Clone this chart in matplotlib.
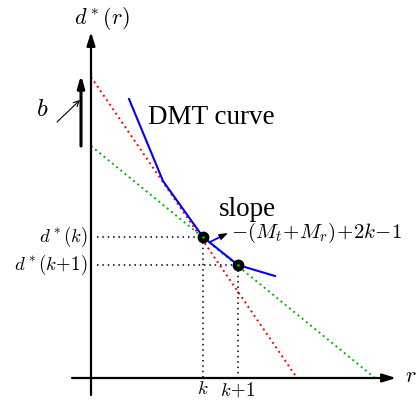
import matplotlib
matplotlib.use('agg')
import matplotlib.pyplot as plt

plt.rcParams['mathtext.fontset'] = 'cm'
plt.rcParams['font.family'] = ['Liberation Serif', 'DejaVu Serif']

# diagram coordinates (origin at axis crossing, y up)
dmt_r = [38, 72, 112, 147, 184]
dmt_d = [279, 197, 141, 113, 102]

red_r = [0, 206]
red_d = [301, 0]
green_r = [0, 284]
green_d = [232, 0]

pts_r = [112, 147]
pts_d = [141, 113]
pt_labels = [r'$d^*(k)$', r'$d^*(k\!+\!1)$']
r_labels = [r'$k$', r'$k\!+\!1$']

fig = plt.figure(figsize=(4.17, 4.03), dpi=100)
ax = fig.add_axes([0, 0, 1, 1])
ax.set_xlim(-91, 326)
ax.set_ylim(-25, 378)
ax.axis('off')

# axes arrows
ax.annotate('', xy=(305, 0), xytext=(-19, 0),
            arrowprops=dict(arrowstyle='-|>,head_length=0.8,head_width=0.25', color='black', lw=1.6,
                            shrinkA=0, shrinkB=0))
ax.annotate('', xy=(0, 346), xytext=(0, -17),
            arrowprops=dict(arrowstyle='-|>,head_length=0.8,head_width=0.25', color='black', lw=1.6,
                            shrinkA=0, shrinkB=0))
ax.text(314, 0, r'$r$', fontsize=16, va='center', ha='left')
ax.text(11, 360, r'$d^*(r)$', fontsize=16, va='center', ha='center')

# tangent lines
ax.plot(red_r, red_d, color='#ff0000', lw=1.4, linestyle=(0, (1, 1.8)))
ax.plot(green_r, green_d, color='#00b400', lw=1.4, linestyle=(0, (1, 1.8)))

# DMT curve
ax.plot(dmt_r, dmt_d, color='blue', lw=1.5)

# guides
for r, d in zip(pts_r, pts_d):
    ax.plot([6, r], [d, d], color='black', lw=1.1, linestyle=(0, (1, 2.5)))
    ax.plot([r, r], [d, 0], color='black', lw=1.1, linestyle=(0, (1, 2.5)))
ax.plot(pts_r, pts_d, 'o', color='black', ms=7.5)
ax.plot(pts_r, pts_d, '.', color='#00b400', ms=2)

for d, lab in zip(pts_d, pt_labels):
    ax.text(-3, d, lab, fontsize=13.5, ha='right', va='center')
for r, lab in zip(pts_r, r_labels):
    ax.text(r, -12, lab, fontsize=13.5, ha='center', va='center')

# shift arrow
ax.annotate('', xy=(-10, 303), xytext=(-10, 232),
            arrowprops=dict(arrowstyle='-|>,head_length=0.7,head_width=0.2', color='black', lw=2.2,
                            shrinkA=0, shrinkB=0))
ax.annotate('', xy=(-11, 278), xytext=(-34, 256),
            arrowprops=dict(arrowstyle='->', color='black', lw=0.8, shrinkA=0, shrinkB=0))
ax.text(-49, 268, r'$b$', fontsize=18, ha='center', va='center')

ax.text(57, 261, 'DMT curve', fontsize=19.5, ha='left', va='center')
ax.text(128, 168, 'slope', fontsize=19.5, ha='left', va='center')
ax.plot([119, 131], [136, 142], color='blue', lw=1.3)
ax.annotate('', xy=(137, 145), xytext=(129, 141),
            arrowprops=dict(arrowstyle='-|>,head_length=0.5,head_width=0.18', color='black', lw=1.0,
                            shrinkA=0, shrinkB=0))
ax.text(140, 145, r'$-(M_t\!+\!M_r)\!+\!2k\!-\!1$', fontsize=15, ha='left', va='center')

fig.savefig('out.png', dpi=100)
